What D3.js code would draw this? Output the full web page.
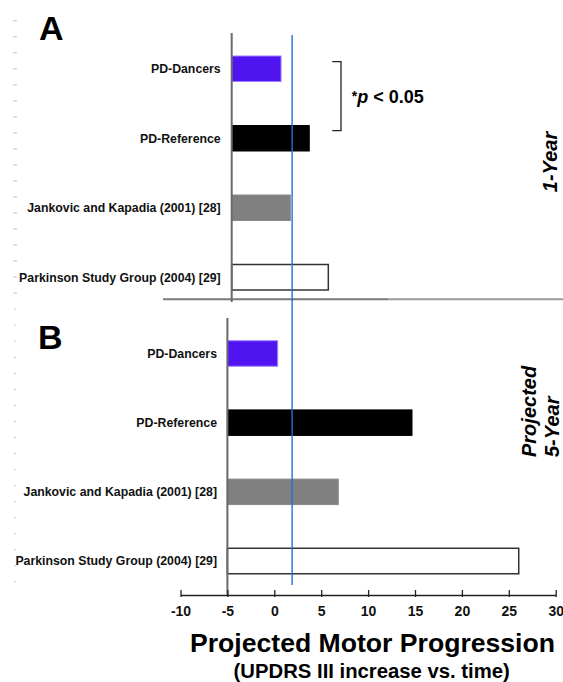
<!DOCTYPE html>
<html>
<head>
<meta charset="utf-8">
<script src="https://cdn.jsdelivr.net/npm/d3@7"></script>
<style>
  body { margin: 0; background: #fff; }
  svg text { font-family: "Liberation Sans", Arial, sans-serif; font-weight: bold; }
</style>
</head>
<body>
<div id="chart"></div>
<script>
// Projected motor progression: 1-year (A) and projected 5-year (B)
const groups = ['PD-Dancers', 'PD-Reference', 'Jankovic and Kapadia (2001) [28]', 'Parkinson Study Group (2004) [29]'];
const oneYear = [0.26, 3.27, 1.25, 5.3];
const fiveYear = [0.36, 14.68, 6.82, 26.06];
const barColors = ['#4f14f0', '#000000', '#808080', '#ffffff'];
const barStrokes = ['#9c80ff', '#000000', '#8a8a8a', '#333333'];
const xTicks = [-10, -5, 0, 5, 10, 15, 20, 25, 30];
const refLine = 1.9;

const width = 563, height = 682;
const svg = d3.select('#chart').append('svg')
  .attr('width', width).attr('height', height)
  .attr('viewBox', `0 0 ${width} ${height}`);

// scales
const xB = d3.scaleLinear().domain([-10, 30]).range([180.5, 555.7]);
const xA = d3.scaleLinear().domain([-5, 30]).range([231.7, 560]);
const yA = d3.scalePoint().domain(groups).range([34, 312]).padding(0.5);
const yB = d3.scalePoint().domain(groups).range([318.9, 595.6]).padding(0.5);
const barH = 25.5;

// faint leftover ticks on the far left
const yFaint = d3.scaleLinear().domain([0, 35]).range([20.7, 581.7]);
svg.append('g').selectAll('line')
  .data(d3.range(36))
  .join('line')
  .attr('x1', (d) => (yFaint(d) < 300 ? 13 : 14))
  .attr('x2', (d) => (yFaint(d) < 300 ? 17 : 16))
  .attr('y1', (d) => yFaint(d)).attr('y2', (d) => yFaint(d))
  .attr('stroke', '#c9cee2').attr('stroke-width', 1.2);

// divider between panels
svg.append('line').attr('x1', 163).attr('x2', 388).attr('y1', 299.3).attr('y2', 299.3)
  .attr('stroke', '#7a7a7a').attr('stroke-width', 2);
svg.append('line').attr('x1', 388).attr('x2', 563).attr('y1', 299.3).attr('y2', 299.3)
  .attr('stroke', '#9a9a9a').attr('stroke-width', 2);

function panel(x, y, values, axisX, axisTop, axisBottom, labelX) {
  const g = svg.append('g');
  g.selectAll('rect')
    .data(groups)
    .join('rect')
    .attr('x', axisX)
    .attr('y', (d) => y(d) - barH / 2)
    .attr('width', (d, i) => x(values[i]) - axisX)
    .attr('height', barH)
    .attr('fill', (d, i) => barColors[i])
    .attr('stroke', (d, i) => barStrokes[i])
    .attr('stroke-width', (d, i) => (i === 3 ? 1.5 : 1));
  g.append('line')
    .attr('x1', axisX).attr('x2', axisX).attr('y1', axisTop).attr('y2', axisBottom)
    .attr('stroke', '#6a6a6a').attr('stroke-width', 2);
  g.selectAll('text.lbl')
    .data(groups)
    .join('text')
    .attr('class', 'lbl')
    .attr('x', labelX)
    .attr('y', (d) => y(d))
    .attr('dy', '0.35em')
    .attr('text-anchor', 'end')
    .attr('font-size', 12.3)
    .attr('fill', '#111')
    .text((d) => d);
}

panel(xA, yA, oneYear, xA(-5), 33, 302, 220.7);
panel(xB, yB, fiveYear, xB(-5), 318, 595, 217);

// reference line
svg.append('line')
  .attr('x1', xB(refLine)).attr('x2', xB(refLine)).attr('y1', 35).attr('y2', 585)
  .attr('stroke', '#1f72d4').attr('stroke-width', 1.4);

// x axis
const axisY = 595;
const ax = svg.append('g')
  .attr('transform', `translate(0,${axisY})`)
  .call(d3.axisBottom(xB).tickValues(xTicks).tickFormat((d) => String(d))
    .tickSizeOuter(0).tickSizeInner(2).tickPadding(9));
ax.select('.domain').attr('stroke', '#222').attr('stroke-width', 1.5);
ax.selectAll('.tick line').attr('y1', -5).attr('stroke', '#222').attr('stroke-width', 1.3);
ax.selectAll('.tick text')
  .attr('font-size', 14).attr('font-family', '"Liberation Sans", Arial, sans-serif')
  .attr('font-weight', 'bold').attr('fill', '#111');

// axis titles
svg.append('text').attr('x', 372.5).attr('y', 651.7).attr('text-anchor', 'middle')
  .attr('font-size', 26.6).attr('fill', '#000').text('Projected Motor Progression');
svg.append('text').attr('x', 371.7).attr('y', 677.6).attr('text-anchor', 'middle')
  .attr('font-size', 20.3).attr('fill', '#000').text('(UPDRS III increase vs. time)');

// panel letters
svg.append('text').attr('x', 39).attr('y', 40).attr('font-size', 34).text('A');
svg.append('text').attr('x', 38).attr('y', 349).attr('font-size', 34).text('B');

// significance bracket
svg.append('path')
  .attr('d', 'M332.3,61.7H341V130.7H332.3')
  .attr('fill', 'none').attr('stroke', '#222').attr('stroke-width', 1.3);
const pt = svg.append('text').attr('x', 351.7).attr('y', 103.3).attr('font-size', 18).attr('fill', '#000');
pt.append('tspan').attr('font-size', 14).attr('dy', -2).text('*');
pt.append('tspan').attr('font-style', 'italic').attr('dy', 2).text('p');
pt.append('tspan').text(' < 0.05');

// period labels
svg.append('text').attr('transform', 'translate(556.5,162) rotate(-90)')
  .attr('text-anchor', 'middle').attr('font-size', 20).attr('font-style', 'italic').text('1-Year');
svg.append('text').attr('transform', 'translate(535.5,457) rotate(-90)')
  .attr('font-size', 20).attr('font-style', 'italic').text('Projected');
svg.append('text').attr('transform', 'translate(559,457) rotate(-90)')
  .attr('font-size', 20).attr('font-style', 'italic').text('5-Year');
</script>
</body>
</html>
